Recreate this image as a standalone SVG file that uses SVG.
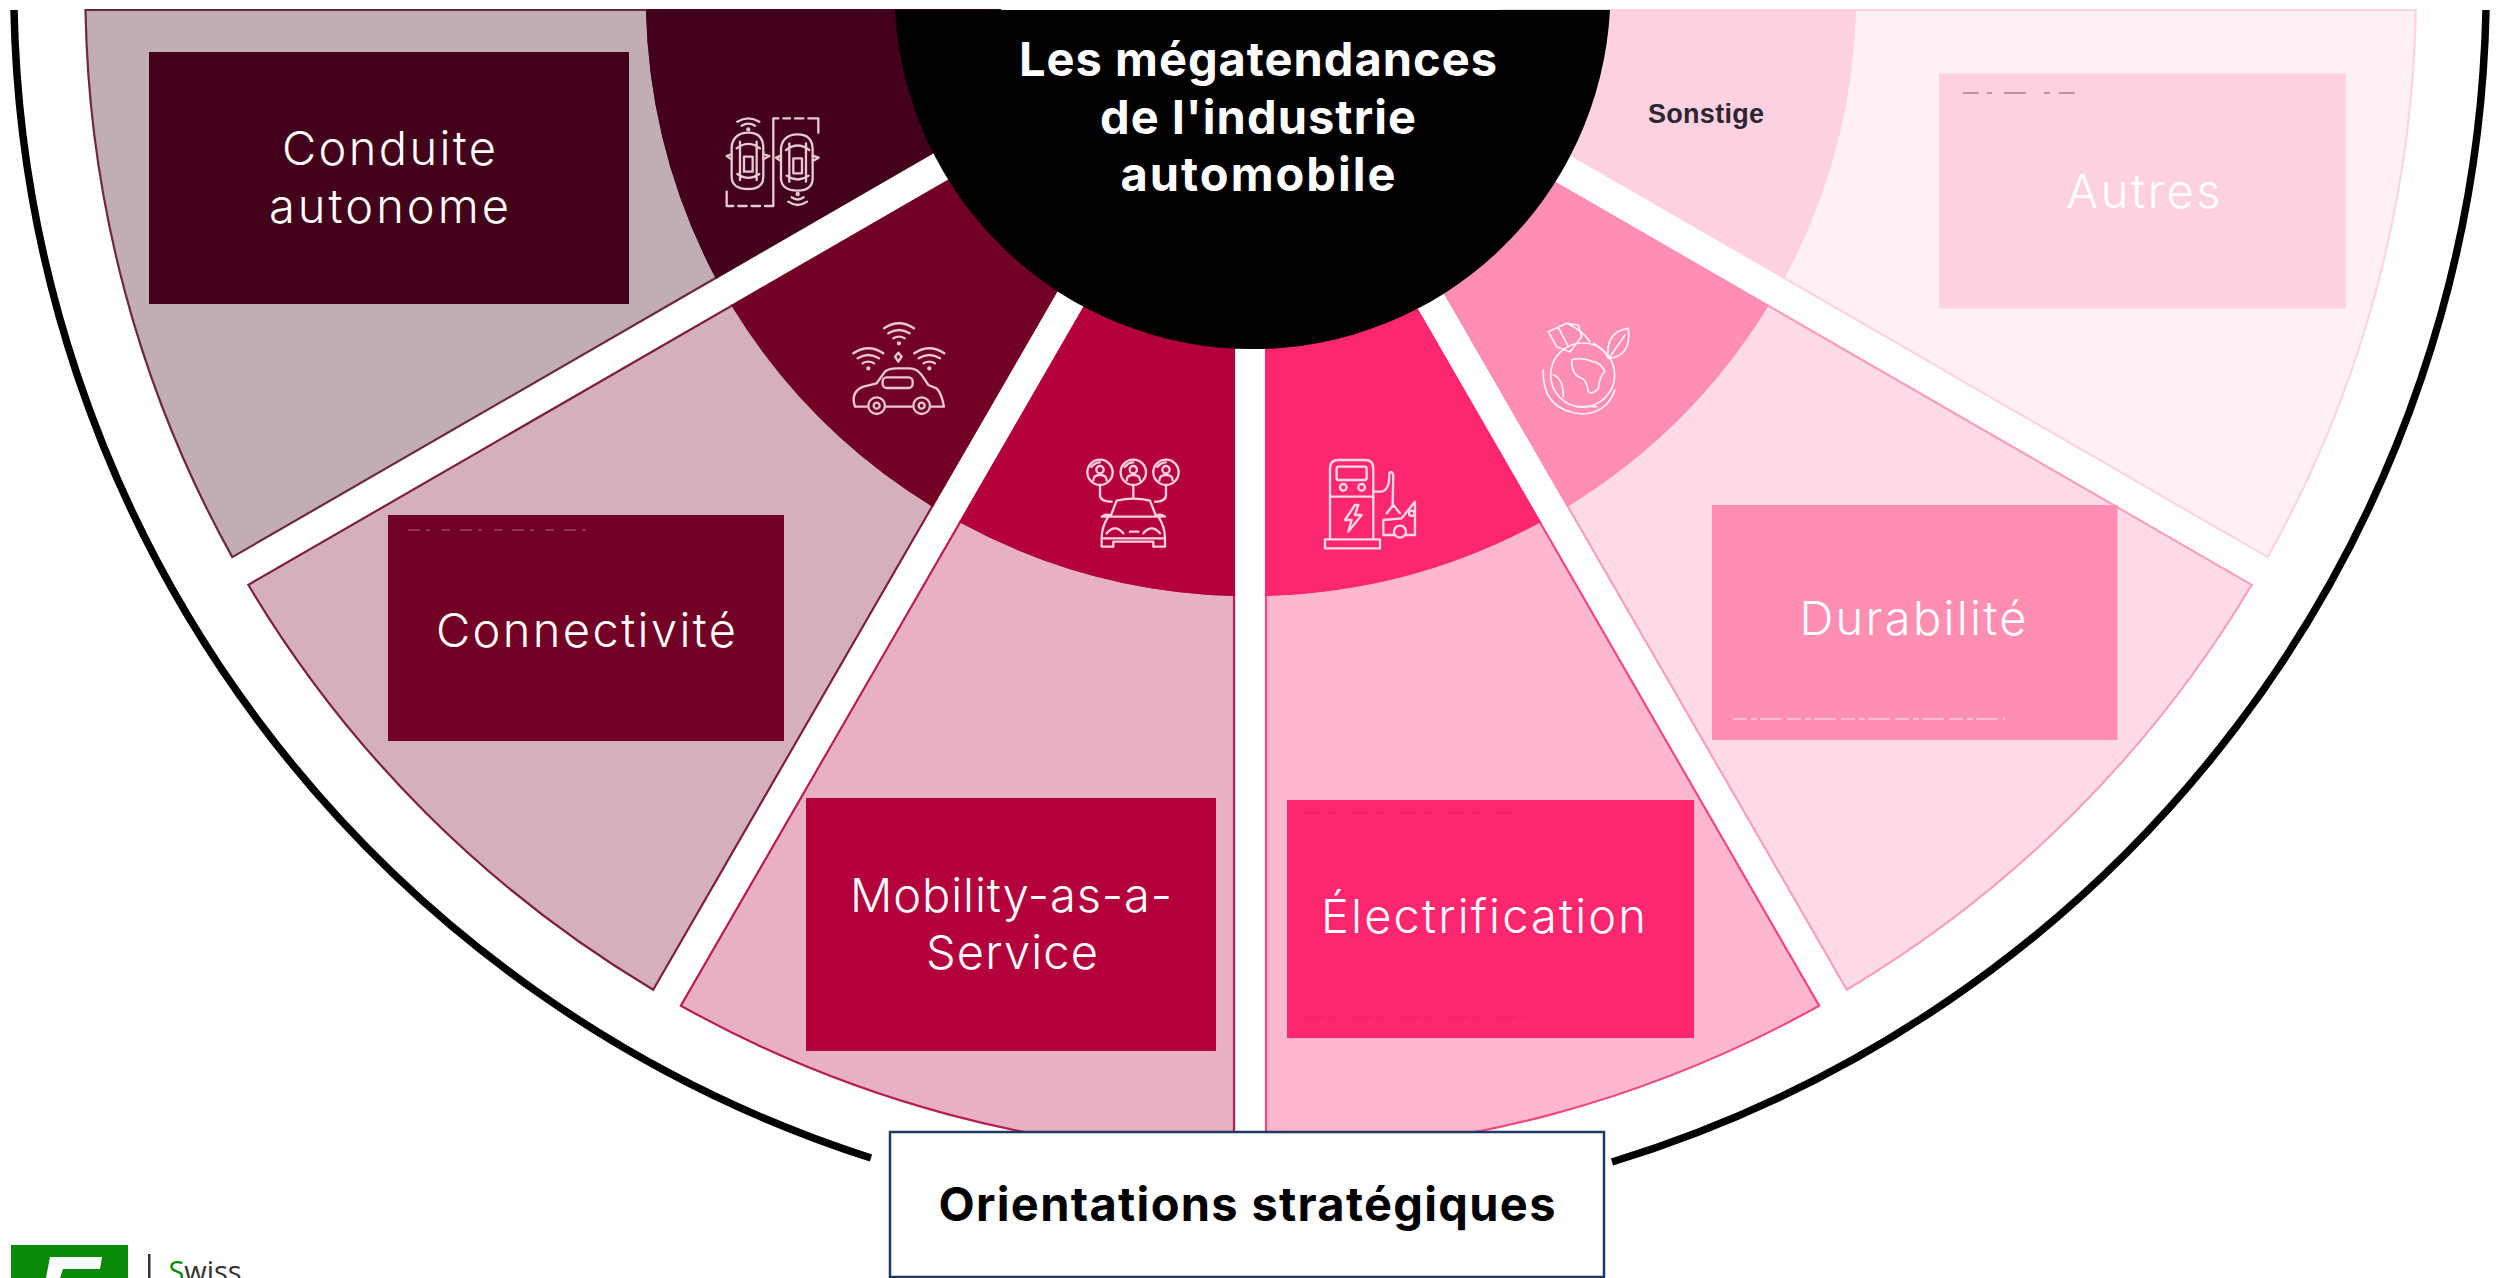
<svg xmlns="http://www.w3.org/2000/svg" xmlns:xlink="http://www.w3.org/1999/xlink" width="2496" height="1278" viewBox="0 0 2496 1278">
<style>
text{font-family:"Inter","Open Sans","Liberation Sans",sans-serif;text-anchor:middle}
.lbl{font-size:47px;font-weight:300;fill:#fff}
.ttl{font-size:47px;font-weight:700;fill:#fff}
.ori{font-size:47px;font-weight:700;fill:#000}
.ico{fill:none;stroke-width:7;stroke-linecap:round;stroke-linejoin:round}
.seg{stroke-width:2.2}
.art{fill:none;stroke-width:1.5;stroke-opacity:.7}
</style>
<defs>
<g id="car-top">
<path d="M205 218C170 218 155 240 155 265V350C155 375 175 387 205 387C235 387 250 375 250 350V265C250 240 240 218 205 218Z"/>
<path d="M170 265Q205 238 240 265M172 342Q205 365 238 342M180 245V360M230 245V360M192 290H218V335H192ZM155 282L140 288L155 298M250 282L268 288L250 298"/>
</g>
<g id="wifi">
<path d="M612 805Q657 775 702 805M625 820Q657 800 689 820M640 835Q657 825 674 835"/>
<circle cx="657" cy="850" r="3"/>
</g>
<g id="person">
<circle r="38"/>
<circle cy="-8" r="11"/>
<path d="M-20 24Q-20 8 0 8Q20 8 20 24M-26 -16Q-14 -30 0 -30"/>
</g>
<g id="wheel">
<circle r="25"/>
<circle r="9"/>
</g>
</defs>

<rect width="2496" height="1278" fill="#fff"/>

<g id="connectors">
<path d="M14 10A1236 1232 0 0 0 871 1158" fill="none" stroke="#000" stroke-width="7.5"/>
<path d="M2486 10A1236 1232 0 0 1 1612 1162" fill="none" stroke="#000" stroke-width="7.5"/>
</g>

<g id="node-autres">
<path class="seg" fill="#fff0f5" stroke="#fbd5e2" d="M1855 10L2415.8 10A1166 1166 0 0 1 2267.7 557.1L1783.5 277.5A607 607 0 0 0 1855 10Z"/>
<path class="seg" fill="#ffd1e1" stroke="#ffd1e1" d="M1517.8 124.1L1783.5 277.5A607 607 0 0 0 1855 10L1500 10Z"/>
<rect x="1939" y="73.5" width="407" height="235" fill="#ffd1e1"/>
<path class="art" stroke="#8a5a6a" stroke-dasharray="16 8 5 12 22 18 6 9" d="M1963 93H2080"/>
<text class="lbl" x="2143.5" y="208" textLength="154">Autres</text>
<text x="1706" y="122.5" style="font-family:'Liberation Sans',Arial,sans-serif;font-size:27px;font-weight:700;fill:#2b2630" textLength="116">Sonstige</text>
</g>

<g id="node-durabilite">
<path class="seg" fill="#ffdbe7" stroke="#f7a0bd" d="M1846.8 989.7A1166 1166 0 0 0 2251.7 584.8L1767.5 305.3A607 607 0 0 1 1567.3 505.5Z"/>
<path class="seg" fill="#ff8eb3" stroke="#ff8eb3" d="M1413.9 239.8L1567.3 505.5A607 607 0 0 0 1767.5 305.3L1501.8 151.9Z"/>
<rect x="1712" y="505" width="405.5" height="235" fill="#ff8eb3"/>
<path class="art" stroke="#ffe6ee" stroke-dasharray="14 4 6 3 22 5" d="M1733 719H2005"/>
<text class="lbl" x="1913" y="634.7" textLength="227">Durabilité</text>
<g class="ico" stroke="#fff0f5" transform="translate(1280 300) scale(.3333)" style="stroke-width:5">
<circle cx="908" cy="225" r="96"/>
<path d="M790 210Q785 330 905 342Q980 340 1005 270"/>
<path d="M875 180Q900 170 940 185Q965 190 975 215Q960 225 955 265Q940 285 925 275Q920 240 905 235Q875 225 875 180Z"/>
<path d="M820 225Q850 235 850 290M890 320H950"/>
<path d="M805 95L860 70L895 75L905 110L870 155L830 140ZM835 82L865 140M860 70Q905 90 930 125"/>
<path d="M1045 85Q975 95 985 175Q1055 170 1045 85ZM990 170L1035 105M985 175Q975 150 940 130"/>
</g>
</g>

<g id="node-electrification">
<path class="seg" fill="#ffb7d0" stroke="#f0487f" d="M1266 1154A1166 1166 0 0 0 1819.1 1005.7L1539.5 521.5A607 607 0 0 1 1266 594.8Z"/>
<path class="seg" fill="#ff2670" stroke="#ff2670" d="M1266 288V594.8A607 607 0 0 0 1539.5 521.5L1386.1 255.8Z"/>
<rect x="1287" y="800" width="407" height="238" fill="#ff2670"/>
<path class="art" stroke="#e81f62" stroke-dasharray="18 5 8 6 4 7" d="M1306 813H1510M1306 1017.5H1526"/>
<text class="lbl" x="1483.5" y="933" textLength="325">Électrification</text>
<g class="ico" stroke="#ffd9e6" transform="translate(1040 300) scale(.3333)">
<path d="M870 715V505Q870 480 895 480H975Q1000 480 1000 505V715"/>
<rect x="890" y="500" width="90" height="40" rx="6"/>
<circle cx="910" cy="562" r="10"/><circle cx="965" cy="562" r="10"/>
<path d="M870 590H1000"/>
<path d="M945 615L915 660H935L925 695L965 645H945L955 615Z"/>
<rect x="855" y="718" width="165" height="27"/>
<path d="M1000 575H1020Q1050 575 1048 520Q1056 510 1060 525L1058 620"/>
<path d="M1040 640L1060 615L1080 640M1030 700V660L1085 655L1125 605V705H1100M1060 705H1030"/>
<circle cx="1080" cy="695" r="18"/><circle cx="1115" cy="640" r="8"/>
</g>
</g>

<g id="node-mobility">
<path class="seg" fill="#e8b0c4" stroke="#b81e55" d="M1234 1154A1166 1166 0 0 1 680.9 1005.7L960.5 521.5A607 607 0 0 0 1234 594.8Z"/>
<path class="seg" fill="#b3003c" stroke="#b3003c" d="M1234 288V594.8A607 607 0 0 1 960.5 521.5L1113.9 255.8Z"/>
<rect x="806" y="798" width="410" height="253" fill="#b3003c"/>
<text class="lbl" x="1011" y="911.5" textLength="322">Mobility-as-a-</text>
<text class="lbl" x="1012" y="968.5" textLength="172">Service</text>
<g class="ico" stroke="#ffd0e0" transform="translate(1040 300) scale(.3333)">
<use xlink:href="#person" href="#person" x="180" y="517"/>
<use xlink:href="#person" href="#person" x="280" y="517"/>
<use xlink:href="#person" href="#person" x="378" y="517"/>
<path d="M280 555V592M180 555V585Q180 605 215 605M378 555V585Q378 605 345 605"/>
<path d="M212 648L230 602Q280 590 330 602L348 648"/>
<path d="M192 650H368M185 650L212 648M185 650Q200 640 212 648M375 650Q360 640 348 648"/>
<path d="M205 650Q185 680 185 715V740H220V725H340V740H375V715Q375 680 355 650"/>
<path d="M200 700Q225 670 250 700M310 700Q335 670 360 700M270 695H295M190 715H370"/>
</g>
</g>

<g id="node-connectivite">
<path class="seg" fill="#d4b0bd" stroke="#7d1f42" d="M653.2 989.7A1166 1166 0 0 1 248.3 584.8L732.5 305.3A607 607 0 0 0 932.7 505.5Z"/>
<path class="seg" fill="#720024" stroke="#720024" d="M1086.1 239.8L932.7 505.5A607 607 0 0 1 732.5 305.3L998.2 151.9Z"/>
<rect x="388" y="515" width="396" height="226" fill="#720024"/>
<path class="art" stroke="#a8667f" stroke-dasharray="12 6 4 12 8 10" d="M408 530H587"/>
<path class="art" stroke="#5a001c" stroke-dasharray="6 4" d="M408 730H552"/>
<text class="lbl" x="586" y="647" textLength="300">Connectivité</text>
<g class="ico" stroke="#e8c8d4" transform="translate(680 60) scale(.3333)">
<use xlink:href="#wifi" href="#wifi"/>
<use xlink:href="#wifi" href="#wifi" x="-92" y="75"/>
<use xlink:href="#wifi" href="#wifi" x="91" y="75"/>
<path d="M655 878L665 890L655 905L645 890Z"/>
<path d="M560 1040H525C515 1010 525 990 550 980L590 970L615 935Q625 925 650 925H690Q710 925 725 945L745 975L770 985Q785 1000 792 1040H755M695 1040H620"/>
<rect x="608" y="952" width="90" height="32" rx="12"/>
<use xlink:href="#wheel" href="#wheel" x="590" y="1037"/>
<use xlink:href="#wheel" href="#wheel" x="725" y="1037"/>
</g>
</g>

<g id="node-conduite">
<path class="seg" fill="#c3adb5" stroke="#6b2a40" d="M647 10L85.5 10A1166 1166 0 0 0 232.3 557.1L716.5 277.5A607 607 0 0 1 647 10Z"/>
<path class="seg" fill="#43001a" stroke="#43001a" d="M982.2 124.1L716.5 277.5A607 607 0 0 1 647 10L1000 10Z"/>
<rect x="149" y="52" width="480" height="252" fill="#43001a"/>
<text class="lbl" x="389" y="164.5" textLength="214">Conduite</text>
<text class="lbl" x="389" y="222.5" textLength="240">autonome</text>
<g class="ico" stroke="#e6c9d3" transform="translate(680 60) scale(.3333)">
<use xlink:href="#car-top" href="#car-top"/>
<use xlink:href="#car-top" href="#car-top" x="148" y="5"/>
<path d="M172 185Q205 165 238 185M185 197Q205 185 225 197M325 425Q353 445 381 425M335 412Q353 425 371 412"/>
<circle cx="205" cy="208" r="3"/><circle cx="353" cy="402" r="3"/>
<path d="M415 218V175H385M370 175H345M330 175H310M295 175H280V438H255M240 438H215M200 438H175M160 438H140V395"/>
</g>
</g>

<g id="node-centre">
<path fill="#000" d="M895 10A358 358 0 0 0 1610 10Z"/>
<text class="ttl" x="1258" y="75.5" textLength="478">Les mégatendances</text>
<text class="ttl" x="1258" y="134" textLength="316">de l'industrie</text>
<text class="ttl" x="1258" y="190.5" textLength="275">automobile</text>
</g>

<g id="node-orientations">
<rect x="890" y="1132" width="714" height="145" fill="#fff" stroke="#1f3a5f" stroke-width="2.5"/>
<text class="ori" x="1247" y="1221" textLength="617">Orientations stratégiques</text>
</g>

<g id="node-logo">
<rect x="11" y="1245" width="117" height="33" fill="#0a8a0a"/>
<path fill="#fff" d="M50 1257H102L100 1269H63L60 1278H46Z"/>
<rect x="148" y="1254" width="2.5" height="24" fill="#333"/>
<text x="205" y="1282" style="font-family:'Open Sans','Liberation Sans',sans-serif;font-size:29px;font-weight:500;fill:#333" textLength="73"><tspan fill="#0a8a0a">S</tspan>wiss</text>
</g>
</svg>
